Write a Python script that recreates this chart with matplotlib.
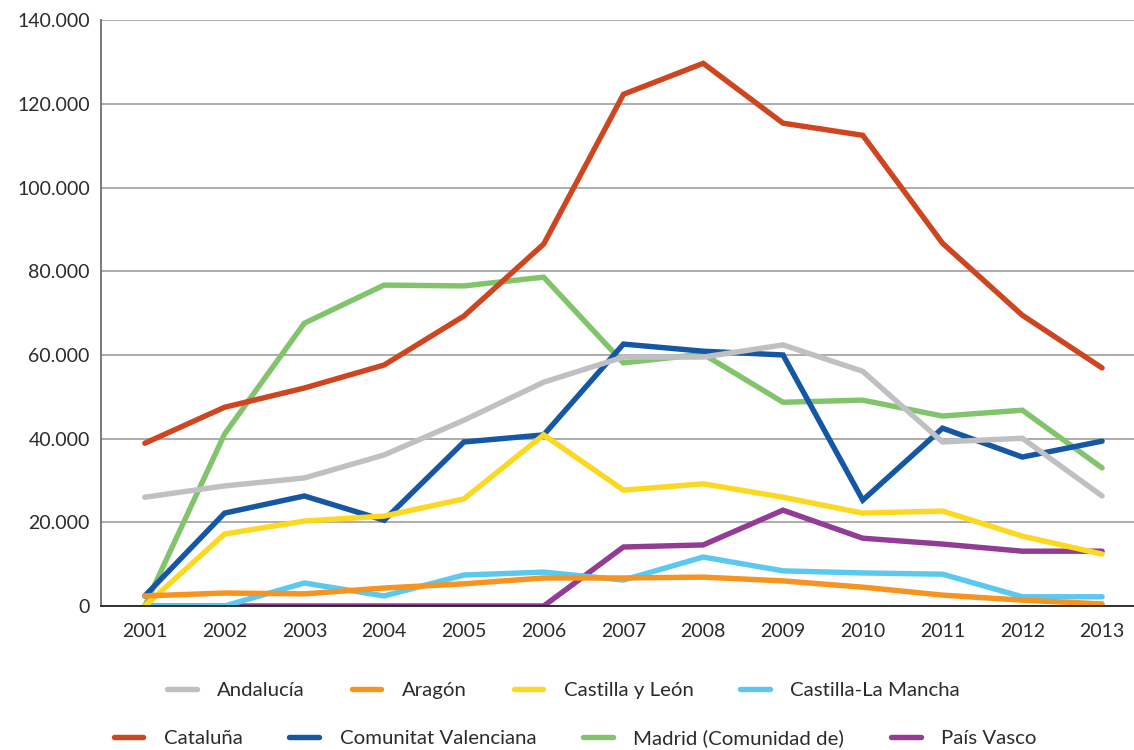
import matplotlib
matplotlib.use("Agg")
from matplotlib import pyplot as plt
from matplotlib.ticker import FuncFormatter

plt.rcParams['font.family'] = ['Lato', 'DejaVu Sans']

years = [2001, 2002, 2003, 2004, 2005, 2006, 2007, 2008, 2009, 2010, 2011, 2012, 2013]

andalucia = [26000, 28700, 30600, 36100, 44400, 53500, 59500, 59500, 62400, 56100, 39200, 40100, 26300]
aragon = [2400, 3100, 2900, 4300, 5300, 6700, 6700, 6900, 6000, 4500, 2600, 1400, 500]
castilla_leon = [0, 17200, 20300, 21500, 25600, 40900, 27700, 29200, 26000, 22200, 22700, 16700, 12400]
castilla_mancha = [0, 0, 5500, 2400, 7400, 8100, 6200, 11700, 8400, 7900, 7600, 2200, 2200]
cataluna = [38900, 47500, 52100, 57600, 69300, 86500, 122300, 129700, 115400, 112500, 86700, 69500, 56900]
valenciana = [2400, 22200, 26300, 20500, 39200, 40900, 62600, 60900, 60000, 25300, 42500, 35600, 39400]
madrid = [0, 41100, 67600, 76700, 76500, 78600, 58100, 60200, 48700, 49200, 45400, 46800, 33000]
pais_vasco = [0, 0, 0, 0, 0, 0, 14100, 14600, 22900, 16200, 14800, 13100, 13100]

names = ["Andalucía", "Aragón", "Castilla y León", "Castilla-La Mancha",
         "Cataluña", "Comunitat Valenciana", "Madrid (Comunidad de)", "País Vasco"]
series = [andalucia, aragon, castilla_leon, castilla_mancha,
          cataluna, valenciana, madrid, pais_vasco]
colors = ["#C0C0C4", "#F7931E", "#FDD821", "#5BC8F0",
          "#CF4520", "#1457A5", "#82C46C", "#923C95"]

fig = plt.figure(figsize=(11.34, 7.5), dpi=100)
ax = fig.add_axes([0.089, 0.192, 0.911, 0.781])

lines = {}
# drawn in reverse so the first series sits on top
for name, vals, c in reversed(list(zip(names, series, colors))):
    ln, = ax.plot(years, vals, color=c, lw=3.9, solid_capstyle="round",
                  solid_joinstyle="miter", label=name)
    lines[name] = ln

ax.set_ylim(0, 140000)
ax.set_yticks(range(0, 140001, 20000))
ax.yaxis.set_major_formatter(FuncFormatter(lambda v, p: f"{int(v):,}".replace(",", ".")))
ax.set_xlim(2000.45, 2013.4)
ax.set_xticks(years)
ax.grid(axis="y", color="#A6A6A6", lw=1.3)
ax.set_axisbelow(True)
for s in ["top", "right"]:
    ax.spines[s].set_visible(False)
ax.spines["left"].set_color("#6E6E6E")
ax.spines["left"].set_linewidth(1.3)
ax.spines["bottom"].set_color("#222222")
ax.spines["bottom"].set_linewidth(1.3)
ax.tick_params(length=0, labelsize=14, colors="#2B2B2B", pad=12)
ax.tick_params(axis="y", pad=8)

row1 = [lines[n] for n in names[:4]]
row2 = [lines[n] for n in names[4:]]
leg_kw = dict(ncol=4, frameon=False, fontsize=14.7, handlelength=1.45,
              handletextpad=1.0, columnspacing=2.3, labelcolor="#2B2B2B")
leg1 = fig.legend(handles=row1, loc="center left", bbox_to_anchor=(0.131, 0.08), **leg_kw)
leg2 = fig.legend(handles=row2, loc="center left", bbox_to_anchor=(0.084, 0.016), **leg_kw)

plt.savefig("out.png", dpi=100)
